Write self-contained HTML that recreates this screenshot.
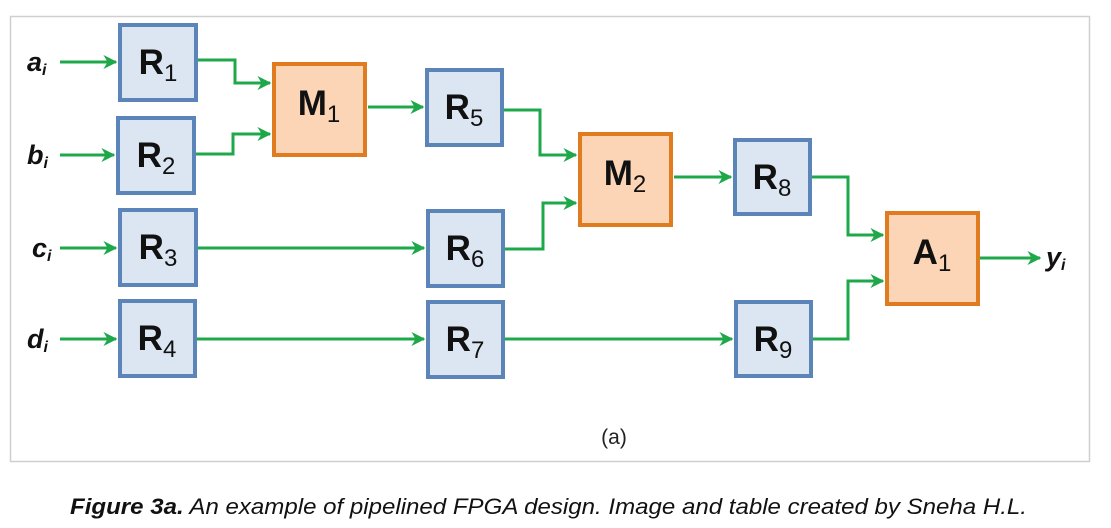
<!DOCTYPE html>
<html><head><meta charset="utf-8"><style>
html,body{margin:0;padding:0;background:#fff;width:1111px;height:528px;overflow:hidden}
svg{display:block}
.bl{font-family:"Liberation Sans",sans-serif;font-weight:bold;font-size:35px;fill:#111}
.sb{font-size:24px;font-weight:normal}
.in{font-family:"Liberation Sans",sans-serif;font-weight:bold;font-style:italic;font-size:27px;fill:#111}
.ii{font-size:16px}
</style></head><body>
<svg width="1111" height="528" viewBox="0 0 1111 528" xmlns="http://www.w3.org/2000/svg">
<defs><marker id="ar" viewBox="0 0 10 10" refX="9" refY="5" markerWidth="14" markerHeight="14" markerUnits="userSpaceOnUse" orient="auto"><path d="M0,0 L10,5 L0,10 L3,5 Z" fill="#1fa84a"/></marker></defs>
<rect x="10.5" y="16.5" width="1079" height="445" fill="#fff" stroke="#cfcfcf" stroke-width="1.5"/>
<g fill="none" stroke="#1fa84a" stroke-width="3" marker-end="url(#ar)">
<path d="M60,62 H116"/><path d="M60,155 H114"/><path d="M60,248 H116"/><path d="M60,339 H116"/>
<path d="M198,60 H235 V83 H270"/><path d="M196,154 H233 V134 H270"/>
<path d="M368,107 H423"/><path d="M504,110 H540 V155 H576"/>
<path d="M198,248 H424"/><path d="M505,249 H543 V203 H576"/>
<path d="M197,339 H424"/><path d="M505,339 H732"/>
<path d="M674,177 H731"/><path d="M812,177 H848 V235 H883"/><path d="M813,339 H848 V281 H883"/>
<path d="M980,258 H1040"/>
</g>
<g stroke-width="4">
<rect x="120" y="25" width="76" height="75" fill="#dce6f2" stroke="#5b84b8"/>
<rect x="118" y="118" width="76" height="75" fill="#dce6f2" stroke="#5b84b8"/>
<rect x="120" y="210" width="76" height="75" fill="#dce6f2" stroke="#5b84b8"/>
<rect x="120" y="301" width="75" height="75" fill="#dce6f2" stroke="#5b84b8"/>
<rect x="427" y="70" width="75" height="75" fill="#dce6f2" stroke="#5b84b8"/>
<rect x="428" y="211" width="75" height="75" fill="#dce6f2" stroke="#5b84b8"/>
<rect x="428" y="302" width="75" height="75" fill="#dce6f2" stroke="#5b84b8"/>
<rect x="735" y="140" width="75" height="74" fill="#dce6f2" stroke="#5b84b8"/>
<rect x="736" y="302" width="75" height="74" fill="#dce6f2" stroke="#5b84b8"/>
<rect x="274" y="64" width="91" height="91" fill="#fbd5b5" stroke="#e07b1f"/>
<rect x="580" y="134" width="91" height="91" fill="#fbd5b5" stroke="#e07b1f"/>
<rect x="887" y="213" width="91" height="91" fill="#fbd5b5" stroke="#e07b1f"/>
</g>
<g class="bl" text-anchor="middle">
<text x="158" y="74">R<tspan class="sb" dy="7">1</tspan></text>
<text x="156" y="167">R<tspan class="sb" dy="7">2</tspan></text>
<text x="158" y="259">R<tspan class="sb" dy="7">3</tspan></text>
<text x="157" y="350">R<tspan class="sb" dy="7">4</tspan></text>
<text x="464" y="119">R<tspan class="sb" dy="7">5</tspan></text>
<text x="465" y="260">R<tspan class="sb" dy="7">6</tspan></text>
<text x="465" y="351">R<tspan class="sb" dy="7">7</tspan></text>
<text x="772" y="189">R<tspan class="sb" dy="7">8</tspan></text>
<text x="773" y="351">R<tspan class="sb" dy="7">9</tspan></text>
<text x="319" y="115">M<tspan class="sb" dy="7">1</tspan></text>
<text x="625" y="185">M<tspan class="sb" dy="7">2</tspan></text>
<text x="932" y="264">A<tspan class="sb" dy="7">1</tspan></text>
</g>
<g class="in">
<text x="27" y="71">a<tspan class="ii" dy="4">i</tspan></text>
<text x="27" y="164">b<tspan class="ii" dy="4">i</tspan></text>
<text x="32" y="257">c<tspan class="ii" dy="4">i</tspan></text>
<text x="27" y="348">d<tspan class="ii" dy="4">i</tspan></text>
<text x="1046" y="266">y<tspan class="ii" dy="4">i</tspan></text>
</g>
<text x="614" y="444" text-anchor="middle" font-family="Liberation Sans, sans-serif" font-size="21" fill="#222">(a)</text>
<text x="70" y="514" font-family="Liberation Sans, sans-serif" font-size="22" font-style="italic" fill="#111" textLength="957" lengthAdjust="spacingAndGlyphs"><tspan font-weight="bold">Figure 3a.</tspan> An example of pipelined FPGA design. Image and table created by Sneha H.L.</text>
</svg>
</body></html>
